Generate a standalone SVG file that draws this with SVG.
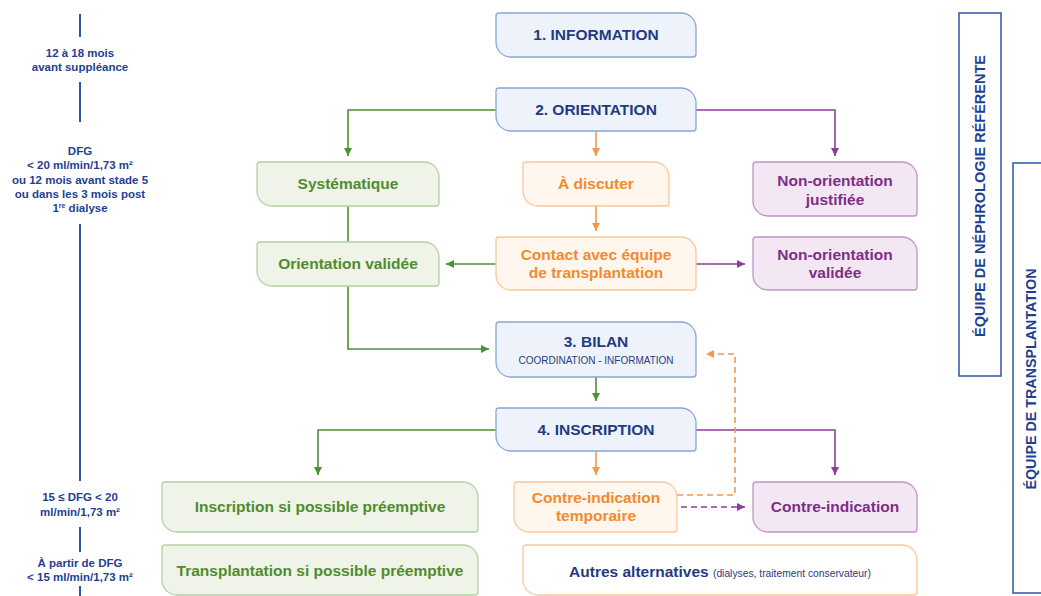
<svg xmlns="http://www.w3.org/2000/svg" width="1041" height="596" viewBox="0 0 1041 596">
<style>
text{font-family:"Liberation Sans",Arial,sans-serif;font-weight:bold;text-anchor:middle}
.t{font-size:15.5px}
.lbl{font-size:11.5px;fill:#1f3f8f}
.nb{fill:#eef3fb;stroke:#8aa7d2;stroke-width:1.3}
.ng{fill:#eff3e8;stroke:#b3d0a3;stroke-width:1.3}
.no{fill:#fff6ee;stroke:#f8c89c;stroke-width:1.3}
.np{fill:#f3e7f3;stroke:#bf94c6;stroke-width:1.3}
.nw{fill:#ffffff;stroke:#f8c89c;stroke-width:1.3}
.tb{fill:#1f3b84}.tg{fill:#4f8c2f}.to{fill:#f28a2e}.tp{fill:#7d2e87}
.e{fill:none;stroke-width:1.6}
.eg{stroke:#4e9034}.eo{stroke:#f5974a}.ep{stroke:#8c3f98}
.d{stroke-dasharray:6 4}
.tl{stroke:#2c55a8;stroke-width:2}
.team{fill:none;stroke:#2c55a8;stroke-width:1.5}
</style>
<defs>
<marker id="ag" markerUnits="userSpaceOnUse" markerWidth="9" markerHeight="9" refX="8" refY="4" orient="auto"><path d="M0,0 L8,4 L0,8 z" fill="#4e9034"/></marker>
<marker id="ao" markerUnits="userSpaceOnUse" markerWidth="9" markerHeight="9" refX="8" refY="4" orient="auto"><path d="M0,0 L8,4 L0,8 z" fill="#f5974a"/></marker>
<marker id="ap" markerUnits="userSpaceOnUse" markerWidth="9" markerHeight="9" refX="8" refY="4" orient="auto"><path d="M0,0 L8,4 L0,8 z" fill="#8c3f98"/></marker>
</defs>

<g id="timeline">
<path class="tl" d="M80 14 V37 M80 82 V122 M80 224 V481 M80 527 V552 M80 586 V596"/>
<text class="lbl" x="80" y="57">12 à 18 mois</text>
<text class="lbl" x="80" y="71">avant suppléance</text>
<text class="lbl" x="80" y="155">DFG</text>
<text class="lbl" x="80" y="169">&lt; 20 ml/min/1,73 m²</text>
<text class="lbl" x="80" y="184">ou 12 mois avant stade 5</text>
<text class="lbl" x="80" y="198">ou dans les 3 mois post</text>
<text class="lbl" x="80" y="212">1<tspan font-size="7" dy="-4">re</tspan><tspan dy="4"> dialyse</tspan></text>
<text class="lbl" x="80" y="501">15 ≤ DFG &lt; 20</text>
<text class="lbl" x="80" y="516">ml/min/1,73 m²</text>
<text class="lbl" x="80" y="567">À partir de DFG</text>
<text class="lbl" x="80" y="581">&lt; 15 ml/min/1,73 m²</text>
</g>

<g id="teams">
<rect class="team" x="959" y="13" width="42" height="363"/>
<text x="980" y="196" font-size="14.5" fill="#1f3f8f" transform="rotate(-90 980 196)" dy="5">ÉQUIPE DE NÉPHROLOGIE RÉFÉRENTE</text>
<rect class="team" x="1013" y="163" width="40" height="430"/>
<text x="1031" y="379" font-size="14.3" fill="#1f3f8f" transform="rotate(-90 1031 379)" dy="5">ÉQUIPE DE TRANSPLANTATION</text>
</g>

<g id="connectors">
<path class="e eg" d="M496 110 H348 V156" marker-end="url(#ag)"/>
<path class="e eo" d="M596 131 V156" marker-end="url(#ao)"/>
<path class="e ep" d="M696 110 H835 V156" marker-end="url(#ap)"/>
<path class="e eg" d="M348 206 V242"/>
<path class="e eo" d="M596 206 V231" marker-end="url(#ao)"/>
<path class="e eg" d="M496 264 H446" marker-end="url(#ag)"/>
<path class="e ep" d="M696 264 H745" marker-end="url(#ap)"/>
<path class="e eg" d="M348 286 V349 H489" marker-end="url(#ag)"/>
<path class="e eg" d="M596 377 V401" marker-end="url(#ag)"/>
<path class="e eg" d="M496 430 H318 V475" marker-end="url(#ag)"/>
<path class="e eo" d="M596 451 V475" marker-end="url(#ao)"/>
<path class="e ep" d="M696 430 H835 V475" marker-end="url(#ap)"/>
<path class="e eo d" d="M677 495 H735 V354 H706" marker-end="url(#ao)"/>
<path class="e ep d" d="M681 507 H745" marker-end="url(#ap)"/>
</g>

<g id="n1"><path class="nb" d="M499 13 h182 a15 15 0 0 1 15 15 v26 a3 3 0 0 1 -3 3 h-182 a15 15 0 0 1 -15 -15 v-26 a3 3 0 0 1 3 -3z"/><text class="t tb" x="596" y="40">1. INFORMATION</text></g>
<g id="n2"><path class="nb" d="M499 88 h182 a15 15 0 0 1 15 15 v25 a3 3 0 0 1 -3 3 h-182 a15 15 0 0 1 -15 -15 v-25 a3 3 0 0 1 3 -3z"/><text class="t tb" x="596" y="115">2. ORIENTATION</text></g>
<g id="n-syst"><path class="ng" d="M260 162 h164 a15 15 0 0 1 15 15 v26 a3 3 0 0 1 -3 3 h-164 a15 15 0 0 1 -15 -15 v-26 a3 3 0 0 1 3 -3z"/><text class="t tg" x="348" y="189">Systématique</text></g>
<g id="n-disc"><path class="no" d="M526 162 h128 a15 15 0 0 1 15 15 v26 a3 3 0 0 1 -3 3 h-128 a15 15 0 0 1 -15 -15 v-26 a3 3 0 0 1 3 -3z"/><text class="t to" x="596" y="189">À discuter</text></g>
<g id="n-nonj"><path class="np" d="M756 162 h146 a15 15 0 0 1 15 15 v36 a3 3 0 0 1 -3 3 h-146 a15 15 0 0 1 -15 -15 v-36 a3 3 0 0 1 3 -3z"/><text class="t tp" x="835" y="186">Non-orientation</text><text class="t tp" x="835" y="205">justifiée</text></g>
<g id="n-orval"><path class="ng" d="M260 242 h164 a15 15 0 0 1 15 15 v26 a3 3 0 0 1 -3 3 h-164 a15 15 0 0 1 -15 -15 v-26 a3 3 0 0 1 3 -3z"/><text class="t tg" x="348" y="269">Orientation validée</text></g>
<g id="n-contact"><path class="no" d="M499 237 h182 a15 15 0 0 1 15 15 v35 a3 3 0 0 1 -3 3 h-182 a15 15 0 0 1 -15 -15 v-35 a3 3 0 0 1 3 -3z"/><text class="t to" x="596" y="260">Contact avec équipe</text><text class="t to" x="596" y="278">de transplantation</text></g>
<g id="n-nonv"><path class="np" d="M756 237 h146 a15 15 0 0 1 15 15 v35 a3 3 0 0 1 -3 3 h-146 a15 15 0 0 1 -15 -15 v-35 a3 3 0 0 1 3 -3z"/><text class="t tp" x="835" y="260">Non-orientation</text><text class="t tp" x="835" y="278">validée</text></g>
<g id="n3"><path class="nb" d="M499 322 h182 a15 15 0 0 1 15 15 v37 a3 3 0 0 1 -3 3 h-182 a15 15 0 0 1 -15 -15 v-37 a3 3 0 0 1 3 -3z"/><text class="t tb" x="596" y="347">3. BILAN</text><text x="596" y="364" font-size="10" fill="#1f3b84" style="font-weight:normal">COORDINATION - INFORMATION</text></g>
<g id="n4"><path class="nb" d="M499 408 h182 a15 15 0 0 1 15 15 v25 a3 3 0 0 1 -3 3 h-182 a15 15 0 0 1 -15 -15 v-25 a3 3 0 0 1 3 -3z"/><text class="t tb" x="596" y="435">4. INSCRIPTION</text></g>
<g id="n-insc"><path class="ng" d="M165 482 h298 a15 15 0 0 1 15 15 v32 a3 3 0 0 1 -3 3 h-298 a15 15 0 0 1 -15 -15 v-32 a3 3 0 0 1 3 -3z"/><text class="t tg" x="320" y="512">Inscription si possible préemptive</text></g>
<g id="n-citemp"><path class="no" d="M517 482 h145 a15 15 0 0 1 15 15 v32 a3 3 0 0 1 -3 3 h-145 a15 15 0 0 1 -15 -15 v-32 a3 3 0 0 1 3 -3z"/><text class="t to" x="596" y="503">Contre-indication</text><text class="t to" x="596" y="521">temporaire</text></g>
<g id="n-ci"><path class="np" d="M756 482 h146 a15 15 0 0 1 15 15 v32 a3 3 0 0 1 -3 3 h-146 a15 15 0 0 1 -15 -15 v-32 a3 3 0 0 1 3 -3z"/><text class="t tp" x="835" y="512">Contre-indication</text></g>
<g id="n-transp"><path class="ng" d="M165 545 h298 a15 15 0 0 1 15 15 v32 a3 3 0 0 1 -3 3 h-298 a15 15 0 0 1 -15 -15 v-32 a3 3 0 0 1 3 -3z"/><text class="t tg" x="320" y="576">Transplantation si possible préemptive</text></g>
<g id="n-autres"><path class="nw" d="M526 545 h376 a15 15 0 0 1 15 15 v32 a3 3 0 0 1 -3 3 h-376 a15 15 0 0 1 -15 -15 v-32 a3 3 0 0 1 3 -3z"/><text class="t tb" x="720" y="577">Autres alternatives <tspan font-size="10.3" style="font-weight:normal">(dialyses, traitement conservateur)</tspan></text></g>
</svg>
